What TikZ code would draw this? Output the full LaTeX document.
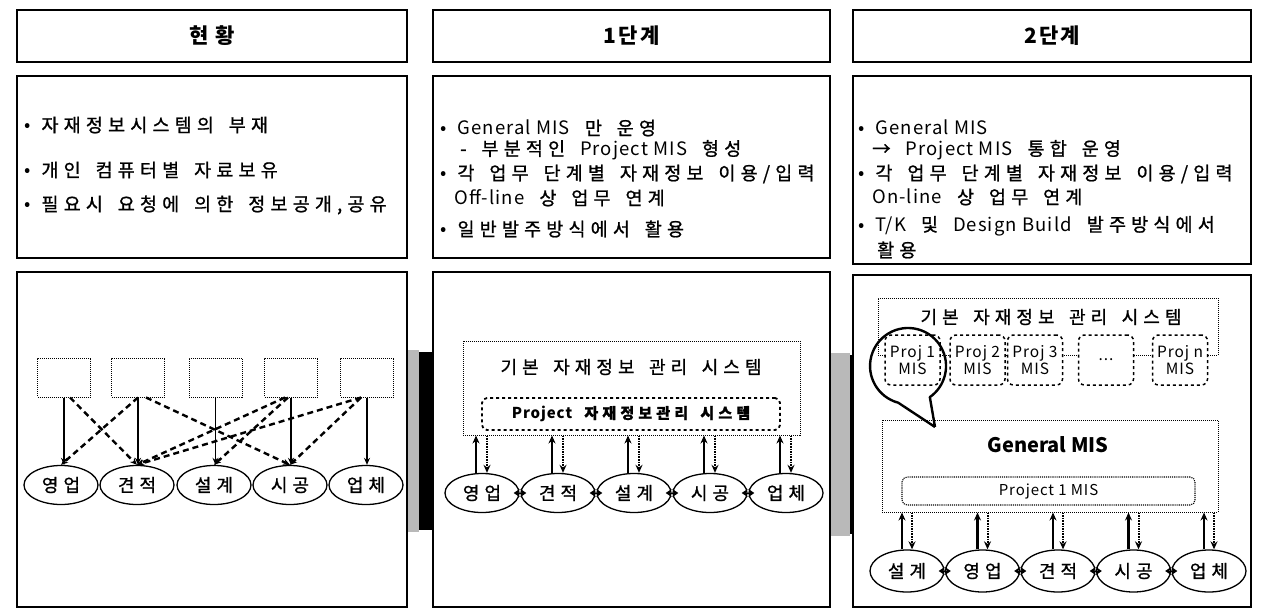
\documentclass[tikz,border=0pt]{standalone}
\usepackage{fontspec}
\setmainfont{Noto Sans CJK KR}
\newfontfamily\bodyf{Noto Sans CJK KR}[LetterSpace=28,WordSpace=1.6,FakeBold=1]
\newfontfamily\latf{Noto Sans CJK KR}[LetterSpace=6]
\newfontfamily\hdrf{Noto Sans CJK KR}[LetterSpace=10]
\usetikzlibrary{arrows.meta,shapes.geometric}
\newcommand\engx[1]{{\latf #1}}
\newcommand\bulx{{\latf •}\hspace{11pt}}
\begin{document}
\begin{tikzpicture}[x=1pt,y=-1pt,
  frame/.style={draw, line width=2.6pt, inner sep=0pt},
  hdrtxt/.style={font=\hdrf\bfseries\fontsize{21}{24}\selectfont},
  txt/.style={font=\bodyf\fontsize{18.5}{20}\selectfont, anchor=west, inner sep=0pt},
  lab/.style={font=\bodyf\fontsize{18}{20}\selectfont, inner sep=0pt},
  dotbox/.style={draw, densely dotted, line width=1pt, inner sep=0pt},
  ell/.style={ellipse, draw, line width=1.3pt, minimum width=74pt, minimum height=39pt, inner sep=0pt, font=\bodyf\fontsize{18}{20}\selectfont},
  solidarr/.style={line width=1.8pt, -{Stealth[length=7pt,width=6pt]}},
  dasharr/.style={line width=2.4pt, dash pattern=on 6pt off 4pt, -{Stealth[length=7pt,width=6pt]}},
  uparr/.style={line width=2pt, -{Stealth[length=8pt,width=7pt]}},
  downarr/.style={line width=1.6pt, densely dotted, -{Stealth[length=8pt,width=7pt]}},
  junc/.style={{Stealth[length=6pt,width=8pt]}-{Stealth[length=6pt,width=8pt]}, line width=1pt, shorten <=-6pt, shorten >=-6pt},
  projbox/.style={draw, dashed, line width=1.5pt, rounded corners=6pt, fill=white, minimum width=55pt, minimum height=50pt, inner sep=0pt, align=center, font=\latf\fontsize{15.5}{17}\selectfont}
]
\useasboundingbox (0,0) rectangle (1266,615);
\fill[white] (0,0) rectangle (1266,615);

% connectors between columns (shaded bars)
\fill[gray!55] (408,350) rectangle (419,532);
\fill[black] (419,352) rectangle (433,530);
\fill[gray!55] (831,353) rectangle (850,536);
\fill[black] (850,355) rectangle (856,534);

% headers
\node[frame, hdrtxt, minimum width=390pt, minimum height=52pt] (h1) at (212,36) {현 황};
\node[frame, hdrtxt, minimum width=397pt, minimum height=52pt] (h2) at (631.5,36) {1단계};
\node[frame, hdrtxt, minimum width=398pt, minimum height=52pt] (h3) at (1052,36) {2단계};

% text boxes
\node[frame, minimum width=390pt, minimum height=182pt] (tb1) at (212,167) {};
\node[frame, minimum width=397pt, minimum height=182pt] (tb2) at (631.5,167) {};
\node[frame, minimum width=398pt, minimum height=188pt] (tb3) at (1052,170) {};

% bottom boxes
\node[frame, fill=white, minimum width=390pt, minimum height=335pt] (bb1) at (212,439.5) {};
\node[frame, fill=white, minimum width=397pt, minimum height=335pt] (bb2) at (631.5,439.5) {};
\node[frame, fill=white, minimum width=398pt, minimum height=332pt] (bb3) at (1052,441) {};

% texts column 1
\node[txt] (t11) at (24,125) {\bulx 자재정보시스템의 부재};
\node[txt] (t12) at (24,170) {\bulx 개인 컴퓨터별 자료보유};
\node[txt] (t13) at (24,205) {\bulx 필요시 요청에 의한 정보공개,공유};

% texts column 2
\node[txt] (t21) at (440,128) {\bulx \engx{General MIS} 만 운영};
\node[txt] (t22) at (460,150) {- 부분적인 \engx{Project MIS} 형성};
\node[txt] (t23) at (440,174) {\bulx 각 업무 단계별 자재정보 이용/입력};
\node[txt] (t24) at (454,198) {\engx{Off-line} 상 업무 연계};
\node[txt] (t25) at (440,229) {\bulx 일반발주방식에서 활용};

% texts column 3
\node[txt] (t31) at (858,127) {\bulx \engx{General MIS}};
\node[txt] (t32) at (872,150) {→ \engx{Project MIS} 통합 운영};
\node[txt] (t33) at (858,174) {\bulx 각 업무 단계별 자재정보 이용/입력};
\node[txt] (t34) at (872,197) {\engx{On-line} 상 업무 연계};
\node[txt] (t35) at (858,226) {\bulx \engx{T/K} 및 \engx{Design Build} 발주방식에서};
\node[txt] (t36) at (877,250) {활용};

% ---------- column 1 diagram
\foreach \n/\x in {1/64,2/138,3/215.5,4/291,5/367}
  \node[dotbox, minimum width=53pt, minimum height=39pt] (b\n) at (\x,377.5) {};
\node[ell] (e1) at (61,485) {영업};
\node[ell] (e2) at (137,485) {견적};
\node[ell] (e3) at (214,485) {설계};
\node[ell] (e4) at (290,485) {시공};
\node[ell] (e5) at (366,485) {업체};
\foreach \n in {1,...,5}
  \draw[solidarr] (b\n.south) -- (b\n.south |- e\n.north);
\draw[dasharr] ([xshift=6pt]b1.south) -- (e2.north);
\draw[dasharr] (b2.south) -- (e1.north);
\draw[dasharr] ([xshift=8pt]b2.south) -- (e4.north);
\draw[dasharr] ([xshift=-6pt]b4.south) -- (e2.north);
\draw[dasharr] ([xshift=-6pt]b5.south) -- (e2.north);
\draw[dasharr] ([xshift=-3pt]b4.south) -- (e3.north);
\draw[dasharr] ([xshift=-6pt]b5.south) -- (e4.north);

% ---------- column 2 diagram
\node[dotbox, minimum width=337pt, minimum height=94pt] (s2) at (631.5,388) {};
\node[lab] (s2l) at (631,367) {기본 자재정보 관리 시스템};
\node[draw, dashed, line width=1.8pt, rounded corners=5pt, minimum width=298pt, minimum height=32pt, inner sep=0pt, font=\bodyf\bfseries\fontsize{15}{17}\selectfont] (p2) at (631,414) {\engx{\bfseries Project} 자재정보관리 시스템};
\node[ell] (f1) at (482,493) {영업};
\node[ell] (f2) at (558,493) {견적};
\node[ell] (f3) at (634,493) {설계};
\node[ell] (f4) at (710,493) {시공};
\node[ell] (f5) at (786,493) {업체};
\foreach \n in {1,...,5}{
  \draw[uparr] ([xshift=-6pt]f\n.north) -- ([xshift=-6pt]f\n.north |- s2.south);
  \draw[downarr] ([xshift=5pt]f\n.north |- s2.south) -- ([xshift=5pt]f\n.north);
}
\draw[junc] (f1) -- (f2);
\draw[junc] (f2) -- (f3);
\draw[junc] (f3) -- (f4);
\draw[junc] (f4) -- (f5);

% ---------- column 3 diagram
\node[dotbox, minimum width=340pt, minimum height=57pt] (s3) at (1048,326.5) {};
\node[lab] (s3l) at (1051,317) {기본 자재정보 관리 시스템};
\node[projbox] (q1) at (912.5,360) {Proj 1\\MIS};
\node[projbox] (q2) at (977.5,360) {Proj 2\\MIS};
\node[projbox] (q3) at (1035,360) {Proj 3\\MIS};
\node[projbox] (q4) at (1106,360) {...};
\node[projbox] (q5) at (1180,360) {Proj n\\MIS};
\coordinate (tip) at (935,427);
\draw[line width=2.4pt, line join=round] (tip) -- (898.2,402.7) arc[start angle=105, end angle=415, radius=38] -- (tip);
\node[dotbox, minimum width=336pt, minimum height=92pt] (g3) at (1050,466) {};
\node[font=\bfseries\fontsize{20}{24}\selectfont, inner sep=0pt] (g3l) at (1048,445) {General MIS};
\node[draw, densely dotted, line width=1.1pt, rounded corners=5pt, minimum width=293pt, minimum height=28pt, inner sep=0pt, font=\latf\fontsize{15}{17}\selectfont] (p3) at (1048.5,491) {Project 1 MIS};
\node[ell, minimum height=42pt] (k1) at (907,571) {설계};
\node[ell, minimum height=42pt] (k2) at (982.5,571) {영업};
\node[ell, minimum height=42pt] (k3) at (1058,571) {견적};
\node[ell, minimum height=42pt] (k4) at (1133.5,571) {시공};
\node[ell, minimum height=42pt] (k5) at (1209,571) {업체};
\foreach \n in {1,...,5}{
  \draw[uparr, line width=2.4pt] ([xshift=-5pt]k\n.north) -- ([xshift=-5pt]k\n.north |- g3.south);
  \draw[downarr, line width=2pt] ([xshift=5pt]k\n.north |- g3.south) -- ([xshift=5pt]k\n.north);
}
\draw[junc] (k1) -- (k2);
\draw[junc] (k2) -- (k3);
\draw[junc] (k3) -- (k4);
\draw[junc] (k4) -- (k5);
\end{tikzpicture}
\end{document}
